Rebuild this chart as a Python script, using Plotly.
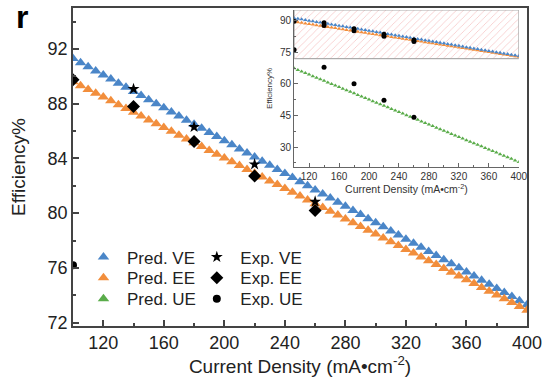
import plotly.graph_objects as go

# ---------------- data ----------------
x_pred = [100, 105, 110, 115, 120, 125, 130, 135, 140, 145, 150, 155, 160, 165, 170, 175,
          180, 185, 190, 195, 200, 205, 210, 215, 220, 225, 230, 235, 240, 245, 250, 255,
          260, 265, 270, 275, 280, 285, 290, 295, 300, 305, 310, 315, 320, 325, 330, 335,
          340, 345, 350, 355, 360, 365, 370, 375, 380, 385, 390, 395, 400]
pred_ve = [91.30, 91.00, 90.70, 90.40, 90.10, 89.80, 89.50, 89.20, 88.90, 88.60, 88.30,
           88.00, 87.70, 87.40, 87.10, 86.80, 86.50, 86.20, 85.90, 85.60, 85.30,
           85.00, 84.70, 84.40, 84.10, 83.80, 83.50, 83.20, 82.90, 82.60, 82.30,
           82.00, 81.70, 81.40, 81.10, 80.80, 80.50, 80.20, 79.90, 79.60, 79.30,
           79.00, 78.70, 78.40, 78.10, 77.80, 77.50, 77.20, 76.90, 76.60, 76.30,
           76.00, 75.70, 75.40, 75.10, 74.80, 74.50, 74.20, 73.90, 73.60, 73.30]
pred_ee = [89.60, 89.32, 89.04, 88.77, 88.49, 88.21, 87.93, 87.65, 87.37, 87.10, 86.82,
           86.54, 86.26, 85.98, 85.70, 85.43, 85.15, 84.87, 84.59, 84.31, 84.03,
           83.76, 83.48, 83.20, 82.92, 82.64, 82.36, 82.09, 81.81, 81.53, 81.25,
           80.97, 80.69, 80.42, 80.14, 79.86, 79.58, 79.30, 79.02, 78.75, 78.47,
           78.19, 77.91, 77.63, 77.35, 77.08, 76.80, 76.52, 76.24, 75.96, 75.68,
           75.41, 75.13, 74.85, 74.57, 74.29, 74.01, 73.74, 73.46, 73.18, 72.90]
pred_ue = [67.40, 66.66, 65.92, 65.17, 64.43, 63.69, 62.95, 62.21, 61.47, 60.73, 59.98,
           59.24, 58.50, 57.76, 57.02, 56.28, 55.53, 54.79, 54.05, 53.31, 52.57,
           51.82, 51.08, 50.34, 49.60, 48.86, 48.12, 47.38, 46.63, 45.89, 45.15,
           44.41, 43.67, 42.93, 42.18, 41.44, 40.70, 39.96, 39.22, 38.47, 37.73,
           36.99, 36.25, 35.51, 34.77, 34.02, 33.28, 32.54, 31.80, 31.06, 30.32,
           29.57, 28.83, 28.09, 27.35, 26.61, 25.87, 25.12, 24.38, 23.64, 22.90]

x_exp_ve = [140, 180, 220, 260]
exp_ve = [89.08, 86.30, 83.57, 80.84]
x_exp = [100, 140, 180, 220, 260]
exp_ee = [89.75, 87.80, 85.24, 82.72, 80.20]
exp_ue = [76.20, 67.90, 60.10, 52.30, 44.20]

hatch_x = [100, 400, 400, 100, 100]
hatch_y = [72.0, 72.0, 95.2, 95.2, 72.0]

x_ticks = [120, 160, 200, 240, 280, 320, 360, 400]
y_ticks_main = [72, 76, 80, 84, 88, 92]
y_ticks_inset = [30, 45, 60, 75, 90]

# ---------------- style ----------------
BLUE = "#4a86c8"
ORANGE = "#f28e3c"
GREEN = "#5aac4a"
FONT = "Liberation Sans, Arial, sans-serif"

fig = go.Figure()

# main plot (each legend entry in its own legend box so rows can be spaced like the reference)
fig.add_trace(go.Scatter(x=x_pred, y=pred_ve, mode="markers", name="Pred. VE",
                         marker=dict(symbol="triangle-up", size=10, color=BLUE),
                         legend="legend"))
fig.add_trace(go.Scatter(x=x_pred, y=pred_ee, mode="markers", name="Pred. EE",
                         marker=dict(symbol="triangle-up", size=10, color=ORANGE),
                         legend="legend2"))
fig.add_trace(go.Scatter(x=x_pred, y=pred_ue, mode="markers", name="Pred. UE",
                         marker=dict(symbol="triangle-up", size=10, color=GREEN),
                         legend="legend3"))
fig.add_trace(go.Scatter(x=x_exp_ve, y=exp_ve, mode="markers", name="Exp. VE",
                         marker=dict(symbol="star", size=9, color="black"),
                         legend="legend4", cliponaxis=True))
fig.add_trace(go.Scatter(x=x_exp, y=exp_ee, mode="markers", name="Exp. EE",
                         marker=dict(symbol="diamond", size=10, color="black"),
                         legend="legend5", cliponaxis=True))
fig.add_trace(go.Scatter(x=x_exp, y=exp_ue, mode="markers", name="Exp. UE",
                         marker=dict(symbol="circle", size=8, color="black"),
                         legend="legend6", cliponaxis=True))

# inset
fig.add_trace(go.Scatter(x=hatch_x, y=hatch_y, xaxis="x2", yaxis="y2", mode="lines",
                         fill="toself", fillcolor="rgba(0,0,0,0)",
                         fillpattern=dict(shape="/", fgcolor="rgba(235,110,110,0.8)",
                                          bgcolor="rgba(255,255,255,0)", size=5, solidity=0.15),
                         line=dict(color="#999999", width=1), showlegend=False, hoverinfo="skip"))
fig.add_trace(go.Scatter(x=x_pred, y=pred_ue, xaxis="x2", yaxis="y2", mode="markers",
                         marker=dict(symbol="triangle-up", size=4, color=GREEN), showlegend=False))
fig.add_trace(go.Scatter(x=x_pred, y=pred_ee, xaxis="x2", yaxis="y2", mode="markers",
                         marker=dict(symbol="triangle-up", size=4, color=ORANGE), showlegend=False))
fig.add_trace(go.Scatter(x=x_pred, y=pred_ve, xaxis="x2", yaxis="y2", mode="markers",
                         marker=dict(symbol="triangle-up", size=4, color=BLUE), showlegend=False))
for xs, ys in ((x_exp_ve, exp_ve), (x_exp, exp_ee), (x_exp, exp_ue)):
    fig.add_trace(go.Scatter(x=xs, y=ys, xaxis="x2", yaxis="y2", mode="markers",
                             marker=dict(symbol="circle", size=5, color="black"), showlegend=False))

axis_line = dict(showline=True, linecolor="#444444", linewidth=1.5, ticks="inside",
                 tickcolor="#444444", tickwidth=1.5, showgrid=False, zeroline=False)


def leg(x, y):
    return dict(x=x, y=y, xanchor="left", yanchor="middle", bgcolor="rgba(0,0,0,0)",
                font=dict(size=17, color="#222222"), itemwidth=37, borderwidth=0)


row_y = [0.2156, 0.15, 0.0844]
col_x = [0.0154, 0.265]

fig.update_layout(
    width=548, height=380,
    margin=dict(l=73, r=21, t=6, b=54),
    paper_bgcolor="white", plot_bgcolor="white",
    font=dict(family=FONT, color="#222222"),
    xaxis=dict(domain=[0, 1], range=[100, 400], tickvals=x_ticks, ticklen=6,
               minor=dict(dtick=20, tick0=100, ticks="inside", ticklen=3, tickcolor="#444444"),
               mirror=True, tickfont=dict(size=18),
               title=dict(text="Current Density (mA•cm<sup>-2</sup>)", font=dict(size=19), standoff=3),
               **axis_line),
    yaxis=dict(domain=[0, 1], range=[71.75, 95], tickvals=y_ticks_main, ticklen=6,
               minor=dict(dtick=2, tick0=72, ticks="inside", ticklen=3, tickcolor="#444444"),
               mirror=True, tickfont=dict(size=18),
               title=dict(text="Efficiency%", font=dict(size=19), standoff=17),
               **axis_line),
    xaxis2=dict(domain=[0.487, 0.982], range=[100, 400], anchor="y2", tickvals=x_ticks,
                ticklen=4, minor=dict(dtick=20, tick0=100, ticks="inside", ticklen=2, tickcolor="#666666"),
                tickfont=dict(size=10, color="#333333"),
                title=dict(text="Current Density (mA•cm<sup>-2</sup>)", font=dict(size=10.5, color="#333333"), standoff=1),
                showline=True, linecolor="#666666", linewidth=1, ticks="inside", tickcolor="#666666",
                showgrid=False, zeroline=False),
    yaxis2=dict(domain=[0.5, 0.994], range=[20.5, 95.2], anchor="x2", tickvals=y_ticks_inset,
                ticklen=4, minor=dict(dtick=7.5, tick0=15, ticks="inside", ticklen=2, tickcolor="#666666"),
                tickfont=dict(size=10, color="#333333"),
                title=dict(text="Efficiency%", font=dict(size=8, color="#333333"), standoff=6),
                showline=True, linecolor="#666666", linewidth=1, ticks="inside", tickcolor="#666666",
                showgrid=False, zeroline=False),
    legend=leg(col_x[0], row_y[0]),
    legend2=leg(col_x[0], row_y[1]),
    legend3=leg(col_x[0], row_y[2]),
    legend4=leg(col_x[1], row_y[0]),
    legend5=leg(col_x[1], row_y[1]),
    legend6=leg(col_x[1], row_y[2]),
    annotations=[dict(text="<b>r</b>", x=-0.13, y=1.035, xref="paper", yref="paper",
                      xanchor="left", yanchor="top", showarrow=False,
                      font=dict(size=32, color="black", family=FONT))],
)

fig.write_html("out.html", config={"displayModeBar": False},
               post_script="document.body.style.margin='0px';")
